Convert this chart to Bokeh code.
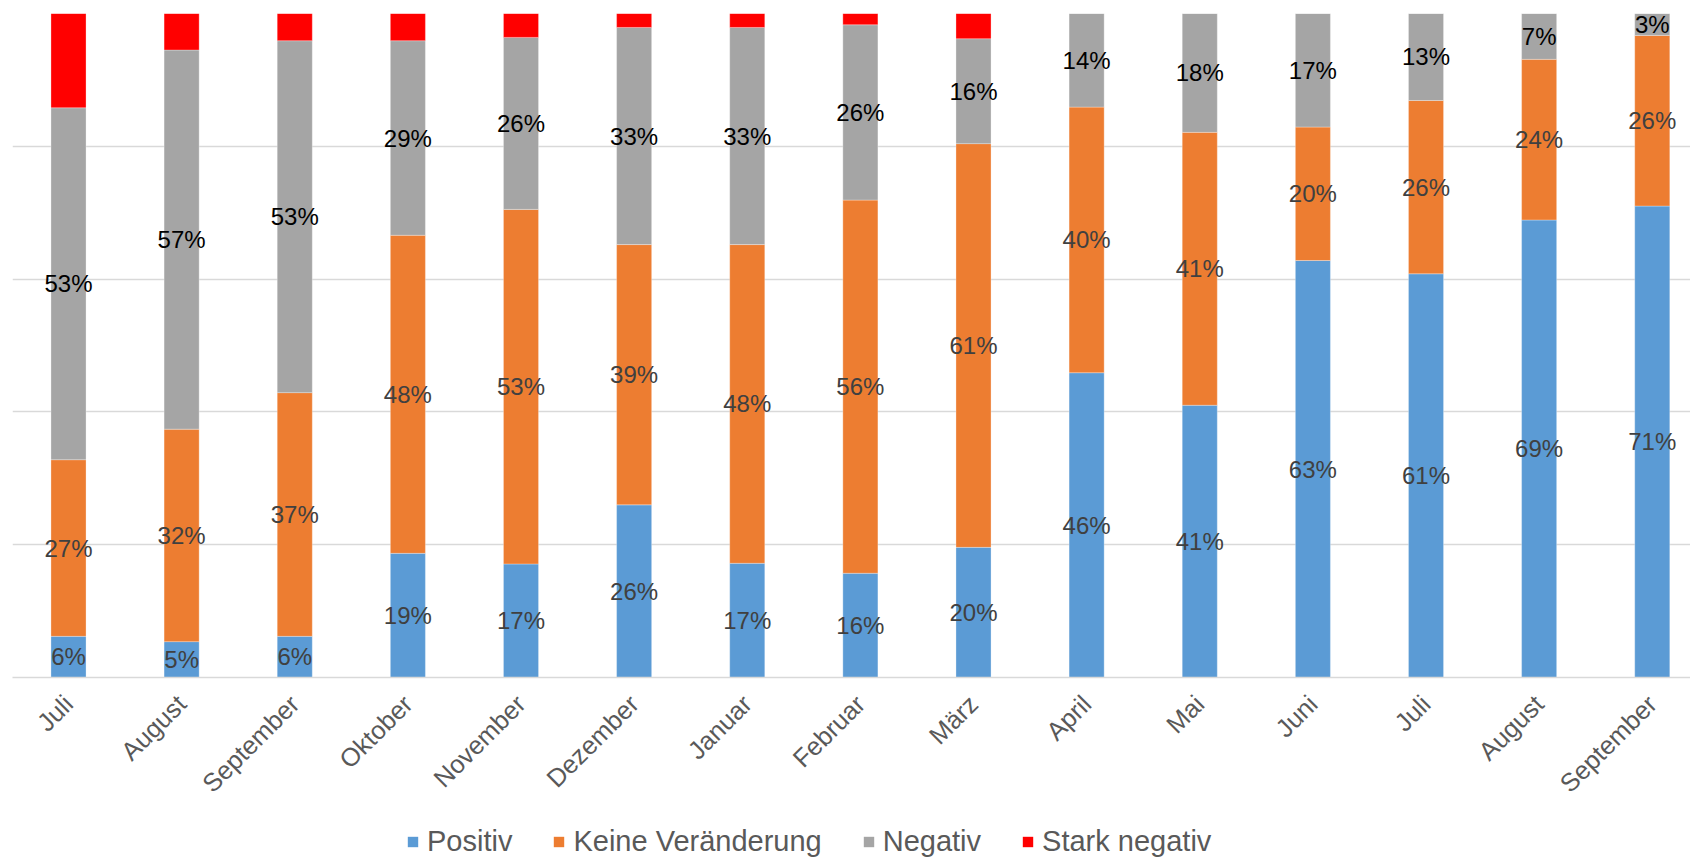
import numpy as np
from math import pi
from bokeh.plotting import figure
from bokeh.layouts import column
from bokeh.models import Range1d, FixedTicker, Legend, LegendItem, ColumnDataSource
from bokeh.core.properties import value
from bokeh.embed import file_html
from bokeh.resources import INLINE

months = ["Juli", "August", "September", "Oktober", "November", "Dezember", "Januar",
          "Februar", "März", "April", "Mai", "Juni", "Juli", "August", "September"]
positiv = [6.2, 5.4, 6.2, 18.7, 17.1, 26.0, 17.2, 15.7, 19.6, 45.9, 41.0, 62.8, 60.8, 68.9, 71.0]
keine = [26.6, 32.0, 36.7, 47.9, 53.4, 39.2, 48.0, 56.2, 60.8, 40.0, 41.1, 20.1, 26.1, 24.2, 25.7]
negativ = [53.0, 57.1, 53.0, 29.3, 25.9, 32.7, 32.7, 26.4, 15.8, 14.1, 17.9, 17.1, 13.1, 6.9, 3.3]
stark = [14.2, 5.5, 4.1, 4.1, 3.6, 2.1, 2.1, 1.7, 3.8, 0.0, 0.0, 0.0, 0.0, 0.0, 0.0]

series = [("Positiv", positiv, "#5B9BD5", "#404040", True),
          ("Keine Veränderung", keine, "#ED7D31", "#404040", True),
          ("Negativ", negativ, "#A5A5A5", "#000000", True),
          ("Stark negativ", stark, "#FF0000", "#000000", False)]

FONT = "Liberation Sans"
x = np.arange(len(months))

p = figure(frame_width=1678, frame_height=664,
           min_border_left=12, min_border_right=0, min_border_top=13, min_border_bottom=142,
           x_range=Range1d(-0.495, 14.338), y_range=Range1d(0, 100),
           y_axis_location=None, output_backend="svg", toolbar_location=None,
           background_fill_color="white", border_fill_color="white")
p.outline_line_color = None
p.xgrid.visible = False
p.ygrid.ticker = FixedTicker(ticks=[0, 20, 40, 60, 80, 100])
p.ygrid.grid_line_color = "#D9D9D9"
p.ygrid.grid_line_width = 1.3

ax = p.xaxis[0]
ax.ticker = FixedTicker(ticks=list(range(len(months))))
ax.major_label_overrides = {i: m for i, m in enumerate(months)}
ax.major_label_orientation = pi / 4
ax.major_label_text_font = FONT
ax.major_label_text_font_size = "25.5px"
ax.major_label_text_color = "#595959"
ax.major_label_standoff = 16
ax.major_tick_line_color = None
ax.minor_tick_line_color = None
ax.axis_line_color = "#D9D9D9"
ax.axis_line_width = 1.3

# legend strip below the chart
lg = figure(frame_width=1690, frame_height=40, min_border=0,
            x_range=Range1d(0, 1), y_range=Range1d(0, 1),
            x_axis_location=None, y_axis_location=None,
            output_backend="svg", toolbar_location=None,
            background_fill_color="white", border_fill_color="white")
lg.outline_line_color = None
lg.grid.visible = False

bottom = np.zeros(len(months))
items = []
lx, ly, lt, lc = [], [], [], []
for name, vals, col, tcol, show in series:
    v = np.array(vals, dtype=float)
    top = bottom + v
    src = ColumnDataSource(dict(x=x, bottom=bottom.copy(), top=top))
    p.vbar(x="x", bottom="bottom", top="top", width=0.31, source=src,
           fill_color=col, line_color="white", line_width=0.6, line_alpha=0.5)
    # off-screen placeholder so the legend swatch is drawn
    dummy = lg.vbar(x=[-5.0], bottom=[-5.0], top=[-4.0], width=0.1,
                    fill_color=col, line_color=None)
    items.append(LegendItem(label=name, renderers=[dummy]))
    if show:
        for i in range(len(months)):
            if v[i] > 0:
                lx.append(x[i])
                ly.append(bottom[i] + v[i] / 2)
                lt.append(f"{int(round(v[i]))}%")
                lc.append(tcol)
    bottom = top

lsrc = ColumnDataSource(dict(x=lx, y=ly, t=lt, c=lc))
p.text(x="x", y="y", text="t", text_color="c", source=lsrc,
       text_align="center", text_baseline="middle",
       text_font=value(FONT), text_font_size="24px")

legend = Legend(items=items, orientation="horizontal", location=(406, 1),
                glyph_width=13, glyph_height=13, label_standoff=8, spacing=40,
                label_height=30, padding=0, margin=0, border_line_color=None,
                background_fill_alpha=0,
                label_text_font=FONT, label_text_font_size="29px", label_text_color="#595959")
lg.add_layout(legend, "center")

open("out.html", "w").write(file_html(column(p, lg, spacing=0), INLINE))
